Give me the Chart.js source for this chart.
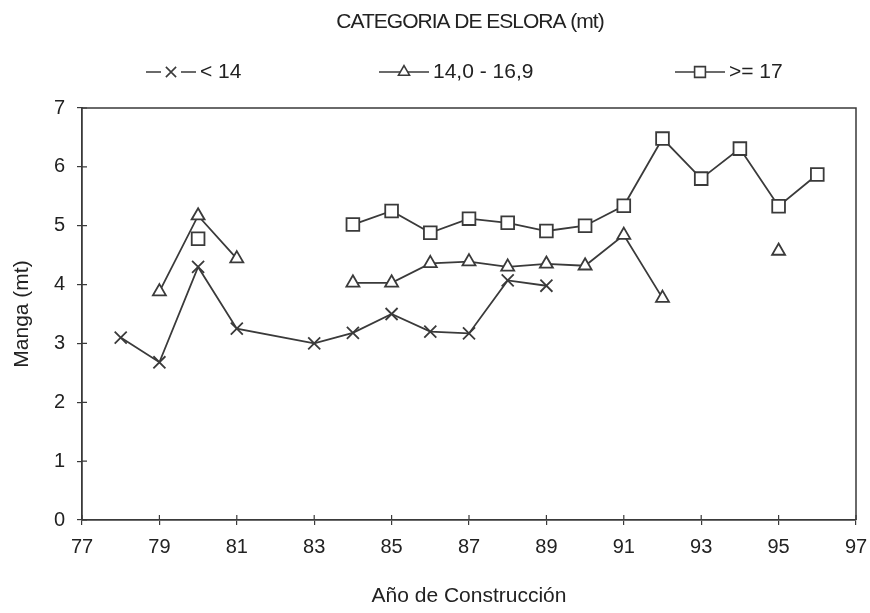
<!DOCTYPE html>
<html>
<head>
<meta charset="utf-8">
<script src="https://cdn.jsdelivr.net/npm/chart.js@4/dist/chart.umd.min.js"></script>
<style>
  html, body { margin: 0; padding: 0; background: #fff; }
  #wrap { width: 870px; height: 613px; }
</style>
</head>
<body>
<div id="wrap"><canvas id="chart"></canvas></div>
<script>
// build years
const years = [78, 79, 80, 81, 82, 83, 84, 85, 86, 87, 88, 89, 90, 91, 92, 93, 94, 95, 96];
// manga (mt) per length category, null = no data
const under14 = [3.1, 2.68, 4.3, 3.25, null, 3.0, 3.18, 3.5, 3.2, 3.17, 4.07, 3.98, null, null, null, null, null, null, null];
const from14to17 = [null, 3.88, 5.17, 4.44, null, null, 4.03, 4.03, 4.36, 4.39, 4.3, 4.35, 4.32, 4.84, 3.77, null, null, 4.57, null];
const over17 = [null, null, 4.78, null, null, null, 5.02, 5.25, 4.88, 5.12, 5.05, 4.91, 5.0, 5.34, 6.48, 5.8, 6.31, 5.33, 5.87];
const seriesLabels = ['< 14', '14,0 - 16,9', '>= 17'];
const legendTitle = 'CATEGORIA DE ESLORA (mt)';

const ink = '#3a3a3a';
const fontFam = "'Liberation Sans', Arial, sans-serif";

function toPoints(vals) {
    return years.map((yr, i) => ({ x: yr, y: vals[i] }));
}

function makeSet(label, vals, style, radius, span) {
    return {
        label: label,
        data: toPoints(vals),
        borderColor: ink,
        borderWidth: 1.8,
        pointStyle: style,
        pointRadius: radius,
        pointHoverRadius: radius,
        pointBackgroundColor: '#fff',
        pointBorderColor: ink,
        pointBorderWidth: 1.8,
        spanGaps: span,
        tension: 0
    };
}

// legend + title + box + inner tick marks, drawn on canvas
const legendPlugin = {
    id: 'oldLegend',
    afterDraw(chart) {
        const ctx = chart.ctx;
        const area = chart.chartArea;
        ctx.save();
        ctx.strokeStyle = ink;
        ctx.lineWidth = 1.5;
        ctx.beginPath();
        ctx.moveTo(area.left, area.top);
        ctx.lineTo(area.right, area.top);
        ctx.lineTo(area.right, area.bottom);
        ctx.stroke();

        // tick marks poke into the plot a little
        ctx.lineWidth = 1.2;
        ctx.beginPath();
        chart.scales.x.ticks.forEach(t => {
            const px = chart.scales.x.getPixelForValue(t.value);
            ctx.moveTo(px, area.bottom);
            ctx.lineTo(px, area.bottom - 5);
        });
        chart.scales.y.ticks.forEach(t => {
            const py = chart.scales.y.getPixelForValue(t.value);
            ctx.moveTo(area.left, py);
            ctx.lineTo(area.left + 5, py);
        });
        ctx.stroke();

        ctx.fillStyle = '#222';
        ctx.font = "21px " + fontFam;
        if ('letterSpacing' in ctx) ctx.letterSpacing = '-1px';
        ctx.textAlign = 'center';
        ctx.textBaseline = 'middle';
        ctx.fillText(legendTitle, 470, 22);
        if ('letterSpacing' in ctx) ctx.letterSpacing = '0px';

        const starts = [146, 379, 675];
        const ly = 72;
        chart.data.datasets.forEach((ds, i) => {
            const xs = starts[i];
            const mid = xs + 25;
            ctx.strokeStyle = ink;
            ctx.lineWidth = 1.6;
            ctx.beginPath();
            if (ds.pointStyle === 'crossRot') {
                ctx.moveTo(xs, ly);
                ctx.lineTo(mid - 10, ly);
                ctx.moveTo(mid + 10, ly);
                ctx.lineTo(xs + 50, ly);
            } else {
                ctx.moveTo(xs, ly);
                ctx.lineTo(xs + 50, ly);
            }
            ctx.stroke();
            ctx.fillStyle = '#fff';
            Chart.helpers.drawPoint(ctx, {
                pointStyle: ds.pointStyle,
                radius: ds.pointRadius * 0.85,
                borderWidth: 1.5,
                rotation: 0
            }, mid, ly);
            ctx.fillStyle = '#222';
            ctx.font = "21px " + fontFam;
            ctx.textAlign = 'left';
            ctx.fillText(ds.label, xs + 54, ly);
        });
        ctx.restore();
    }
};

const ctx = document.getElementById('chart').getContext('2d');
new Chart(ctx, {
    type: 'line',
    data: {
        datasets: [
            makeSet(seriesLabels[0], under14, 'crossRot', 8.5, true),
            makeSet(seriesLabels[1], from14to17, 'triangle', 7.5, false),
            makeSet(seriesLabels[2], over17, 'rect', 9, false)
        ]
    },
    options: {
        responsive: true,
        maintainAspectRatio: false,
        animation: false,
        layout: { padding: { top: 108, right: 14, left: 0, bottom: 0 } },
        plugins: {
            legend: { display: false },
            tooltip: { enabled: false }
        },
        scales: {
            x: {
                type: 'linear',
                min: 77,
                max: 97,
                afterFit: s => { s.height = 93; s.paddingLeft = 0; s.paddingRight = 0; },
                ticks: { stepSize: 2, color: '#222', font: { size: 20, family: fontFam }, padding: 10 },
                grid: { drawOnChartArea: false, tickLength: 5, color: ink, lineWidth: 1.2 },
                border: { color: ink, width: 1.8 },
                title: { display: true, text: 'Año de Construcción', color: '#222', font: { size: 21, family: fontFam }, padding: { top: 18, bottom: 4 } }
            },
            y: {
                min: 0,
                max: 7,
                afterFit: s => { s.width = 82; s.paddingTop = 0; s.paddingBottom = 0; },
                ticks: { stepSize: 1, color: '#222', font: { size: 20, family: fontFam }, padding: 12 },
                grid: { drawOnChartArea: false, tickLength: 5, color: ink, lineWidth: 1.2 },
                border: { color: ink, width: 1.8 },
                title: { display: true, text: 'Manga (mt)', color: '#222', font: { size: 21, family: fontFam }, padding: { top: 10, bottom: 6 } }
            }
        }
    },
    plugins: [legendPlugin]
});
</script>
</body>
</html>
